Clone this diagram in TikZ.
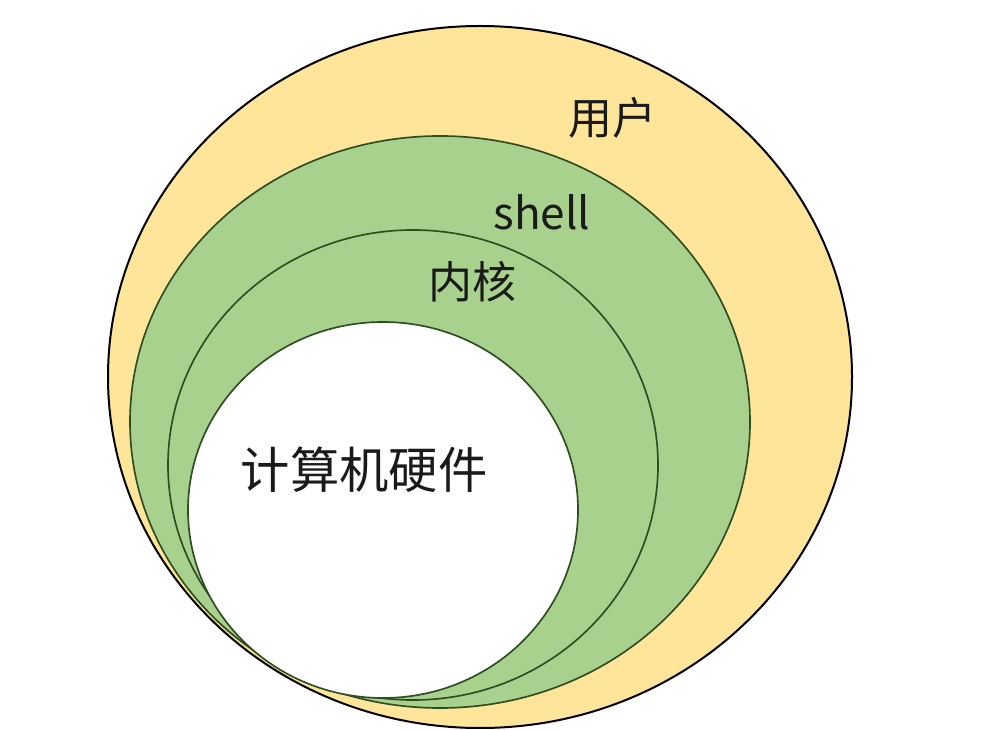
\documentclass[tikz,border=0pt]{standalone}
\usepackage{fontspec}
\usepackage{tikz}
\setmainfont{Noto Sans CJK SC}
\definecolor{userfill}{HTML}{FFE599}
\definecolor{layerfill}{HTML}{A9D18E}
\definecolor{layerline}{HTML}{2E4D23}
\definecolor{ink}{HTML}{1A1A1A}
\tikzset{
  userring/.style={draw=black,fill=userfill,line width=1.5pt},
  layerring/.style={draw=layerline,fill=layerfill,line width=1.25pt},
  hwring/.style={draw=layerline,fill=white,line width=1.25pt},
  lbl/.style={color=ink,inner sep=0pt,font=\fontsize{33}{36}\selectfont},
  biglbl/.style={lbl,font=\fontsize{37}{40}\selectfont}
}
\begin{document}
\begin{tikzpicture}[x=0.75pt,y=-0.75pt]
    \useasboundingbox (0,0) rectangle (988,730);
    % nested layers, outermost first
    \path[userring] (480,377) ellipse [x radius=372,y radius=351];
    \path[layerring] (440,422) ellipse [x radius=310,y radius=286];
    \path[layerring] (413,465) ellipse [x radius=245,y radius=235];
    \path[hwring] (383,510) ellipse [x radius=195,y radius=188];
    % labels
    \node[lbl] (user) at (612,118) {用户};
    \node[lbl] (shell) at (542,212) {shell};
    \node[lbl] (kernel) at (472,282) {内核};
    \node[biglbl] (hw) at (364,470) {计算机硬件};
\end{tikzpicture}
\end{document}
